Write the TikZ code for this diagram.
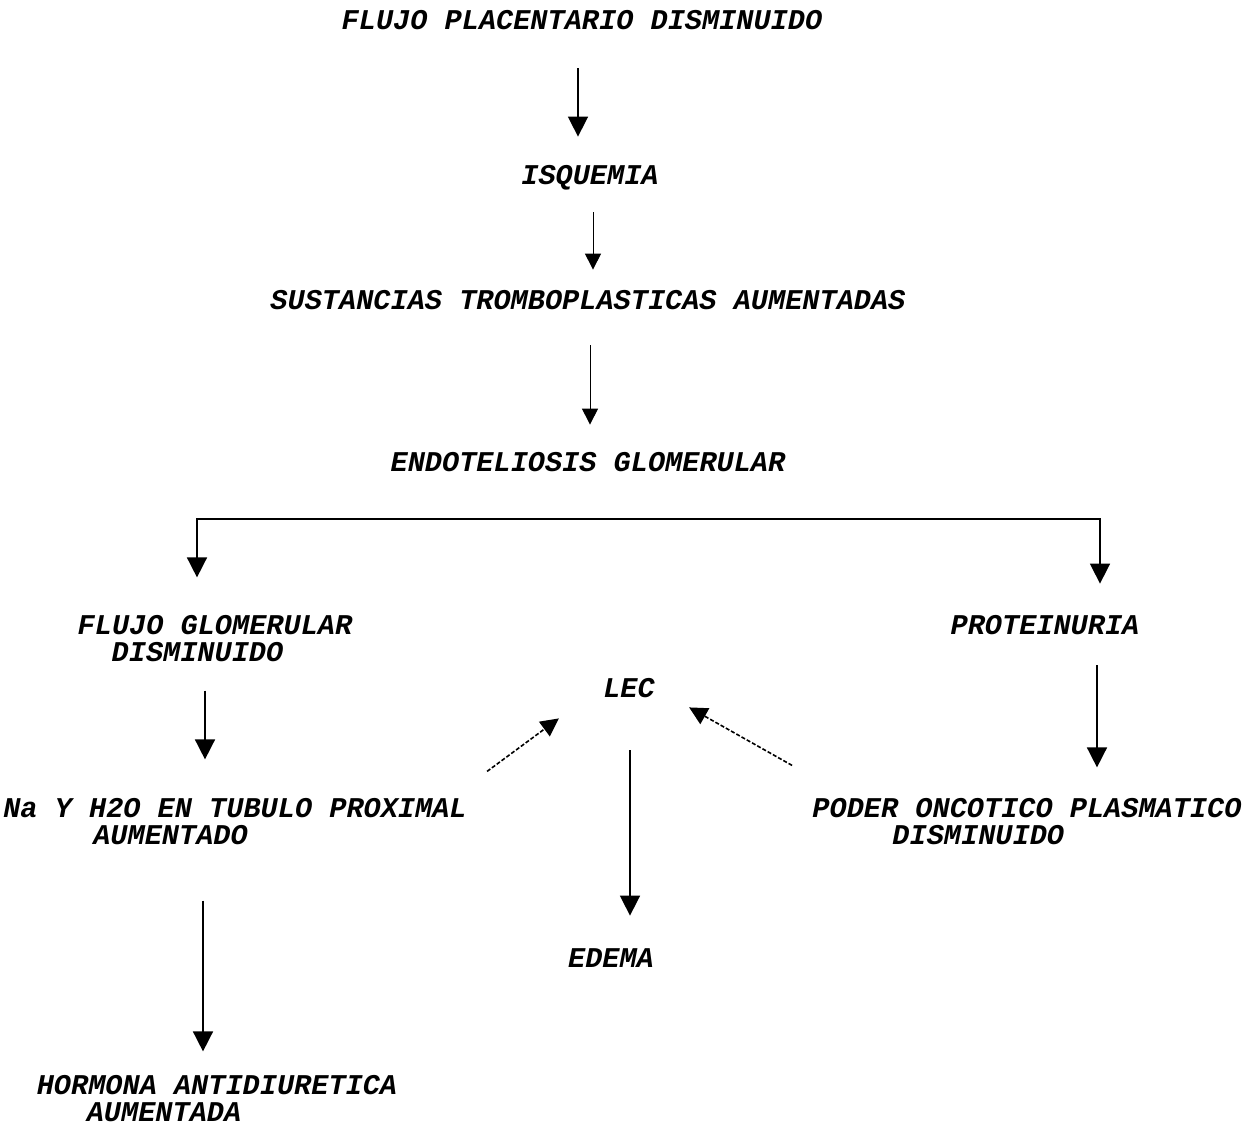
\documentclass[tikz,border=0pt]{standalone}
\usepackage{fontspec}
\setmonofont{Liberation Mono}
\usetikzlibrary{arrows.meta,calc}

\begin{document}
\begin{tikzpicture}[x=0.5pt,y=-0.5pt,
    lbl/.style={inner sep=0pt, text height=9pt, text depth=0pt,
      font=\fontsize{14.3}{13.5}\selectfont\ttfamily\bfseries\itshape},
    lbltwo/.style={inner sep=0pt, align=left,
      font=\fontsize{14.3}{13.5}\selectfont\ttfamily\bfseries\itshape},
    arr/.style={line width=0.8pt, -{Triangle[width=10pt,length=10pt]}},
    arrthin/.style={line width=0.5pt, -{Triangle[width=8pt,length=8pt]}},
    dotarr/.style={line width=0.8pt, dash pattern=on 2pt off 1pt,
      -{Triangle[width=9pt,length=9pt]}}]
    \useasboundingbox (0,0) rectangle (1260,1142);
    % main chain
    \node[lbl] (flujo) at (582,20) {FLUJO PLACENTARIO DISMINUIDO};
    \node[lbl] (isq) at (590,175) {ISQUEMIA};
    \node[lbl] (sust) at (588,300) {SUSTANCIAS TROMBOPLASTICAS AUMENTADAS};
    \node[lbl] (endo) at (588,462) {ENDOTELIOSIS GLOMERULAR};
    \draw[arr] ($(flujo.south)+(-4,39)$) -- ($(flujo.south |- isq.north)+(-4,-29)$);
    \draw[arrthin] ($(isq.south)+(3,28)$) -- ($(isq.south |- sust.north)+(3,-21)$);
    \draw[arrthin] ($(sust.south)+(2,36)$) -- ($(sust.south |- endo.north)+(2,-28)$);
    % branch
    \coordinate (split) at (597,519);
    \node[lbltwo] (fglom) at (215,639) {FLUJO GLOMERULAR\\\hspace*{17pt}DISMINUIDO};
    \node[lbl] (prot) at (1045,625) {PROTEINURIA};
    \coordinate (bl) at (197,519);
    \coordinate (br) at (1100,519);
    \draw[arr, {Triangle[width=10pt,length=10pt]}-{Triangle[width=10pt,length=10pt]}]
      ($(bl |- fglom.north)-(0,38)$) -- (bl) -- (split) -- (br) -- ($(br |- prot.north)-(0,32)$);
    % lower part
    \node[lbl] (lec) at (629,688) {LEC};
    \node[lbltwo] (na) at (235,822) {Na Y H2O EN TUBULO PROXIMAL\\\hspace*{45pt}AUMENTADO};
    \node[lbltwo] (poder) at (1027,822) {PODER ONCOTICO PLASMATICO\\\hspace*{40pt}DISMINUIDO};
    \node[lbl] (edema) at (611,958) {EDEMA};
    \node[lbltwo] (horm) at (217,1099) {HORMONA ANTIDIURETICA\\\hspace*{25pt}AUMENTADA};
    \draw[arr] ($(fglom.south)+(-10,28)$) -- ($(fglom.south |- na.north)+(-10,-39)$);
    \draw[arr] ($(br |- prot.south)+(-3,31)$) -- ($(br |- poder.north)+(-3,-31)$);
    \draw[arr] ($(na.south)+(-32,55)$) -- ($(na.south |- horm.north)+(-32,-24)$);
    \draw[arr] ($(lec.south)+(1,53)$) -- ($(lec.south |- edema.north)+(1,-33)$);
    \draw[dotarr] ($(na.north east)+(20,-27)$) -- ($(lec.south west)+(-44,21)$);
    \draw[dotarr] ($(poder.north west)+(-20,-33)$) -- ($(lec.south east)+(34,10)$);
\end{tikzpicture}
\end{document}
